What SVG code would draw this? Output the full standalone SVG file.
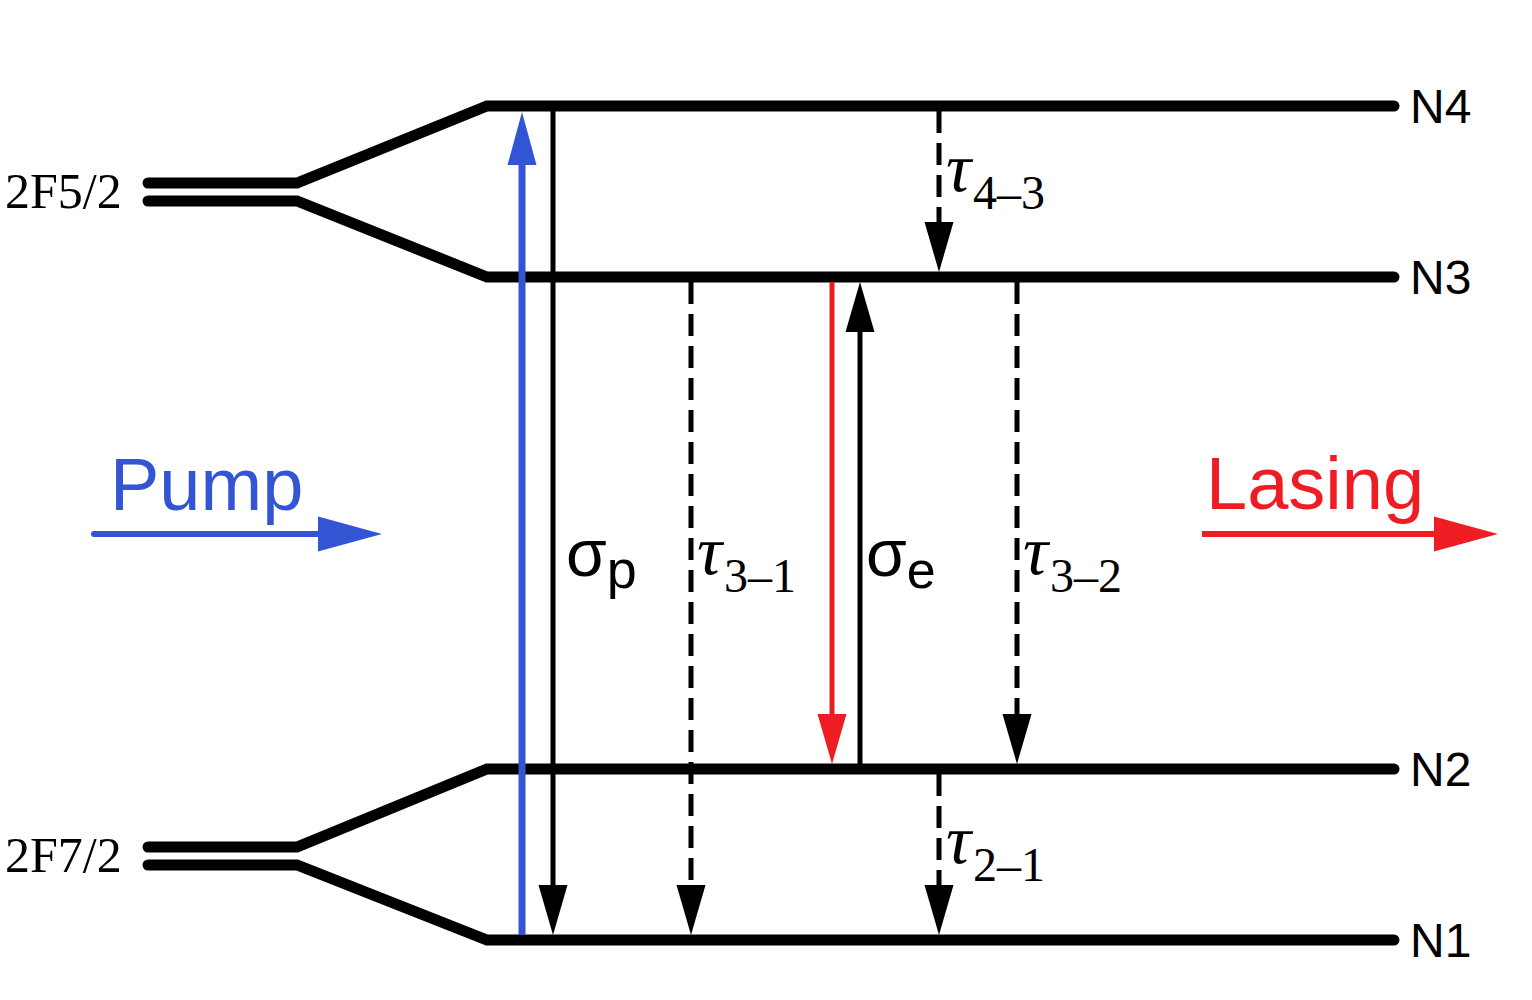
<svg xmlns="http://www.w3.org/2000/svg" width="1532" height="1000" viewBox="0 0 1532 1000">
<style>
.lvl{fill:none;stroke:#000;stroke-width:11;stroke-linecap:round;stroke-linejoin:miter}
.tr{stroke-width:5;fill:none}
.k{stroke:#000}
.dash{stroke-dasharray:22 10}
.lbl{font-family:"Liberation Sans",Arial,sans-serif;fill:#000}
.ser{font-family:"Liberation Serif","Times New Roman",serif;fill:#000}
.tau{font-style:italic;font-size:70px}
.sub{font-style:normal;font-size:48px}
</style>
<defs>
<marker id="hk" markerUnits="userSpaceOnUse" markerWidth="60" markerHeight="40" viewBox="0 -20 60 40" refX="2" refY="0" orient="auto"><path d="M0,-14.5 L50,0 L0,14.5 Z" fill="#000"/></marker>
<marker id="hr" markerUnits="userSpaceOnUse" markerWidth="60" markerHeight="40" viewBox="0 -20 60 40" refX="2" refY="0" orient="auto"><path d="M0,-14.5 L50,0 L0,14.5 Z" fill="#ee1d23"/></marker>
<marker id="hb" markerUnits="userSpaceOnUse" markerWidth="60" markerHeight="40" viewBox="0 -20 60 40" refX="2" refY="0" orient="auto"><path d="M0,-14.5 L53,0 L0,14.5 Z" fill="#3355d4"/></marker>
<marker id="hbig_b" markerUnits="userSpaceOnUse" markerWidth="70" markerHeight="40" viewBox="0 -20 70 40" refX="2" refY="0" orient="auto"><path d="M0,-17.5 L64,0 L0,17.5 Z" fill="#3355d4"/></marker>
<marker id="hbig_r" markerUnits="userSpaceOnUse" markerWidth="70" markerHeight="40" viewBox="0 -20 70 40" refX="2" refY="0" orient="auto"><path d="M0,-17.5 L64,0 L0,17.5 Z" fill="#ee1d23"/></marker>
</defs>
<rect width="1532" height="1000" fill="#fff"/>

<g id="level-2F52">
<polyline class="lvl" points="148,183 297,183 487,106 1394,106"/>
<polyline class="lvl" points="148,201 297,201 487,277 1394,277"/>
<text class="ser" x="5" y="208" font-size="50">2F5/2</text>
</g>
<g id="level-2F72">
<polyline class="lvl" points="148,847 297,847 487,769 1394,769"/>
<polyline class="lvl" points="148,865 297,865 487,940 1394,940"/>
<text class="ser" x="5" y="872" font-size="50">2F7/2</text>
</g>
<g id="N4"><text class="lbl" x="1410" y="123" font-size="48">N4</text></g>
<g id="N3"><text class="lbl" x="1410" y="294" font-size="48">N3</text></g>
<g id="N2"><text class="lbl" x="1410" y="786" font-size="48">N2</text></g>
<g id="N1"><text class="lbl" x="1410" y="957" font-size="48">N1</text></g>

<g id="connectors">
<line x1="522" y1="935" x2="522" y2="163" stroke="#3355d4" stroke-width="7" marker-end="url(#hb)"/>
<line class="tr k" x1="553" y1="111" x2="553" y2="887" marker-end="url(#hk)"/>
<line class="tr k dash" x1="691" y1="282" x2="691" y2="887" marker-end="url(#hk)"/>
<line class="tr" stroke="#ee1d23" x1="832" y1="282" x2="832" y2="716" marker-end="url(#hr)"/>
<line class="tr k" x1="860" y1="764" x2="860" y2="330" marker-end="url(#hk)"/>
<line class="tr k dash" x1="1017" y1="282" x2="1017" y2="716" marker-end="url(#hk)"/>
<line class="tr k dash" x1="939" y1="111" x2="939" y2="224" marker-end="url(#hk)"/>
<line class="tr k dash" x1="939" y1="774" x2="939" y2="887" marker-end="url(#hk)"/>
<line x1="94" y1="534" x2="320" y2="534" stroke="#3355d4" stroke-width="6" stroke-linecap="round" marker-end="url(#hbig_b)"/>
<line x1="1202" y1="534" x2="1436" y2="534" stroke="#ee1d23" stroke-width="6" marker-end="url(#hbig_r)"/>
</g>

<g id="label-sigma-p"><text class="lbl" x="566" y="576" font-size="66">σ<tspan font-size="54" dy="12">p</tspan></text></g>
<g id="label-sigma-e"><text class="lbl" x="866" y="576" font-size="66">σ<tspan font-size="52" dy="12">e</tspan></text></g>
<g id="label-tau31"><text class="ser tau" x="697" y="574">τ<tspan class="sub" dx="2" dy="18">3–1</tspan></text></g>
<g id="label-tau32"><text class="ser tau" x="1023" y="574">τ<tspan class="sub" dx="2" dy="18">3–2</tspan></text></g>
<g id="label-tau43"><text class="ser tau" x="946" y="191">τ<tspan class="sub" dx="2" dy="18">4–3</tspan></text></g>
<g id="label-tau21"><text class="ser tau" x="946" y="863">τ<tspan class="sub" dx="2" dy="18">2–1</tspan></text></g>

<g id="pump"><text x="110" y="510" font-family="Liberation Sans,Arial,sans-serif" font-size="74" fill="#3355d4">Pump</text></g>
<g id="lasing"><text x="1206" y="509" font-family="Liberation Sans,Arial,sans-serif" font-size="74" fill="#ee1d23">Lasing</text></g>
</svg>
